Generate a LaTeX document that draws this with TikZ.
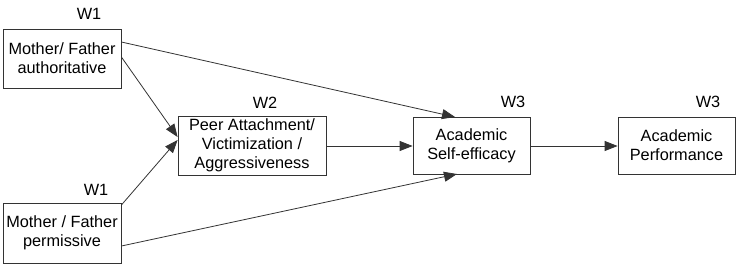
\documentclass[tikz,border=0pt]{standalone}
\usepackage{fontspec}
\setmainfont{Liberation Sans}
\usetikzlibrary{arrows.meta}
\begin{document}
\begin{tikzpicture}[x=1pt,y=-1pt,
  box/.style={draw=black!80,line width=0.8pt,align=center,inner sep=0pt,font=\fontsize{16.3}{19}\selectfont},
  lbl/.style={font=\fontsize{16.3}{19}\selectfont,inner sep=0pt},
  arr/.style={draw=black!80,line width=0.8pt,-{Triangle[length=13pt,width=10pt]}}]
\useasboundingbox (0,0) rectangle (743,271);
\node[box,minimum width=118pt,minimum height=59pt] (A) at (62,58.5) {Mother/ Father\\authoritative};
\node[box,minimum width=118pt,minimum height=60pt] (B) at (62,233) {Mother / Father\\permissive};
\node[box,minimum width=148pt,minimum height=59pt] (C) at (252,145.5) {Peer Attachment/\\Victimization /\\Aggressiveness};
\node[box,minimum width=117pt,minimum height=57pt] (D) at (471.5,145.5) {Academic\\Self-efficacy};
\node[box,minimum width=117pt,minimum height=57pt] (E) at (676.5,145.5) {Academic\\Performance};
\node[lbl] (wA) at (89,14) {W1};
\node[lbl] (wB) at (96,190) {W1};
\node[lbl] (wC) at (265,103) {W2};
\node[lbl] (wD) at (513,102) {W3};
\node[lbl] (wE) at (708,102) {W3};
\coordinate (a1) at (A.east |- 0,42);
\coordinate (a2) at (A.east |- 0,57);
\coordinate (b1) at (B.east |- 0,205);
\coordinate (b2) at (B.east |- 0,246);
\coordinate (c1) at (C.west |- 0,137);
\coordinate (c2) at (C.west |- 0,140);
\coordinate (d1) at (455,117);
\coordinate (d2) at (457,174);
\draw[arr] (a1) -- (d1);
\draw[arr] (a2) -- (c1);
\draw[arr] (b1) -- (c2);
\draw[arr] (b2) -- (d2);
\draw[arr] (C.east |- 0,146) -- (D.west |- 0,146);
\draw[arr] (D.east |- 0,146) -- (E.west |- 0,146);
\end{tikzpicture}
\end{document}
